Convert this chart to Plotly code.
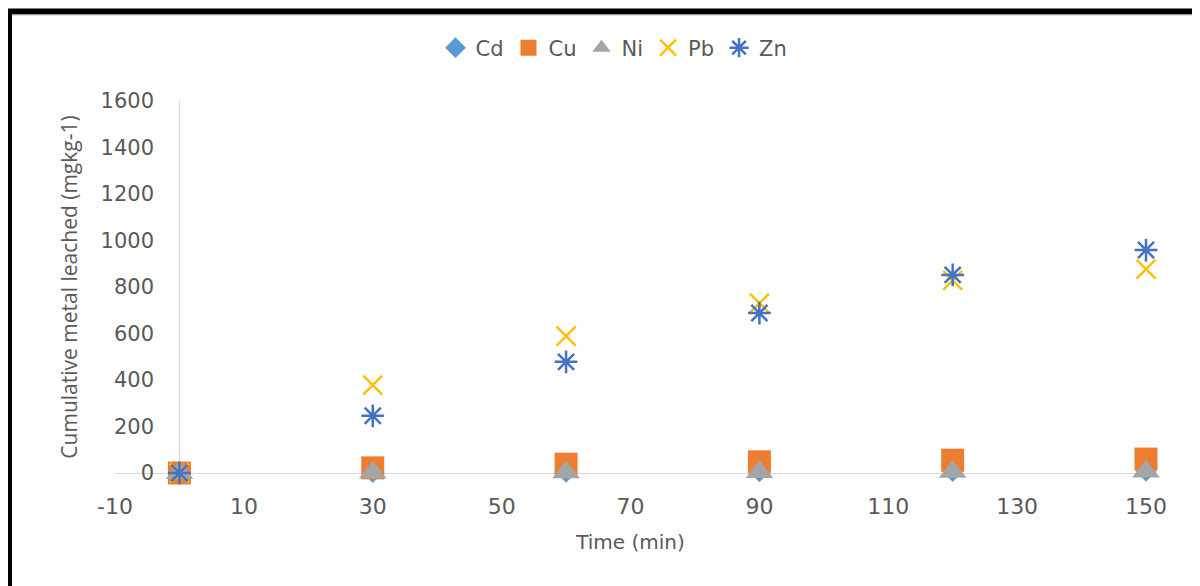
import plotly.graph_objects as go

time_min = [0, 30, 60, 90, 120, 150]
cd = [0, 2, 3, 5, 6, 7]
cu = [0, 22, 38, 48, 55, 60]
ni = [0, 2, 3, 4, 5, 6]
pb = [0, 378, 589, 731, 828, 877]
zn = [0, 246, 478, 688, 852, 959]

x_ticks = [-10, 10, 30, 50, 70, 90, 110, 130, 150]
x_ticktext = ["-10", "10", "30", "50", "70", "90", "110", "130", "150"]
y_ticks = [0, 200, 400, 600, 800, 1000, 1200, 1400, 1600]

series = [
    ("Cd", cd, dict(symbol="diamond", size=16, color="#5B9BD5")),
    ("Cu", cu, dict(symbol="square", size=23, color="#ED7D31")),
    ("Ni", ni, dict(symbol="triangle-up", size=24, color="#A5A5A5")),
    ("Pb", pb, dict(symbol="x-thin-open", size=19, color="#FFC000", line=dict(color="#FFC000", width=2.5))),
    ("Zn", zn, dict(symbol="asterisk-open", size=19, color="#4472C4", line=dict(color="#4472C4", width=2.5))),
]

fig = go.Figure()
for name, vals, marker in series:
    fig.add_trace(go.Scatter(x=time_min, y=vals, mode="markers", name=name,
                             marker=marker, cliponaxis=False))

# page offset of the figure inside the browser window (body margin)
OFF = 8
W, H = 1200 - OFF, 586 - OFF
L, T = 115 - OFF, 101 - OFF
R = W - (1146 - OFF)
B = H - (473 - OFF)
pw, ph = W - L - R, H - T - B

def px_x(p):
    return (p - OFF - L) / pw

def px_y(p):
    return (H - B - (p - OFF)) / ph

font_main = "DejaVu Sans"
grey = "#595959"

fig.update_layout(
    width=W, height=H,
    margin=dict(l=L, r=R, t=T, b=B, autoexpand=False),
    paper_bgcolor="white", plot_bgcolor="white",
    font=dict(family=font_main, color=grey, size=20),
    showlegend=True,
    legend=dict(orientation="h", x=px_x(614), xanchor="center", y=px_y(48), yanchor="middle",
                font=dict(size=21, family=font_main, color=grey), itemwidth=30,
                bgcolor="rgba(0,0,0,0)"),
    xaxis=dict(range=[-10, 150], tickvals=x_ticks, ticktext=x_ticktext,
               showgrid=False, zeroline=True, zerolinecolor="#D9D9D9", zerolinewidth=1,
               showline=False, ticks="", ticklabelstandoff=18,
               tickfont=dict(size=22, family=font_main, color=grey),
               title=dict(text="Time (min)", font=dict(size=20, family=font_main, color=grey), standoff=16),
               automargin=False),
    yaxis=dict(range=[0, 1600], tickvals=y_ticks,
               anchor="free", position=px_x(179),
               showgrid=False, zeroline=True, zerolinecolor="#D9D9D9", zerolinewidth=1,
               showline=False, ticks="", ticklabelstandoff=25,
               tickfont=dict(size=21, family=font_main, color=grey),
               title=dict(text="Cumulative metal leached (mgkg-1)",
                          font=dict(size=21, family="Open Sans", color=grey), standoff=16),
               automargin=False),
)

# outer frame
fig.add_shape(type="rect", xref="paper", yref="paper",
              x0=px_x(9), x1=px_x(1240), y0=px_y(640), y1=px_y(11.5),
              line=dict(color="black", width=6), layer="above")
fig.add_shape(type="line", xref="paper", yref="paper",
              x0=px_x(12), x1=px_x(1240), y0=px_y(15), y1=px_y(15),
              line=dict(color="#BFBFBF", width=1), layer="above")

fig.write_html("out.html")
